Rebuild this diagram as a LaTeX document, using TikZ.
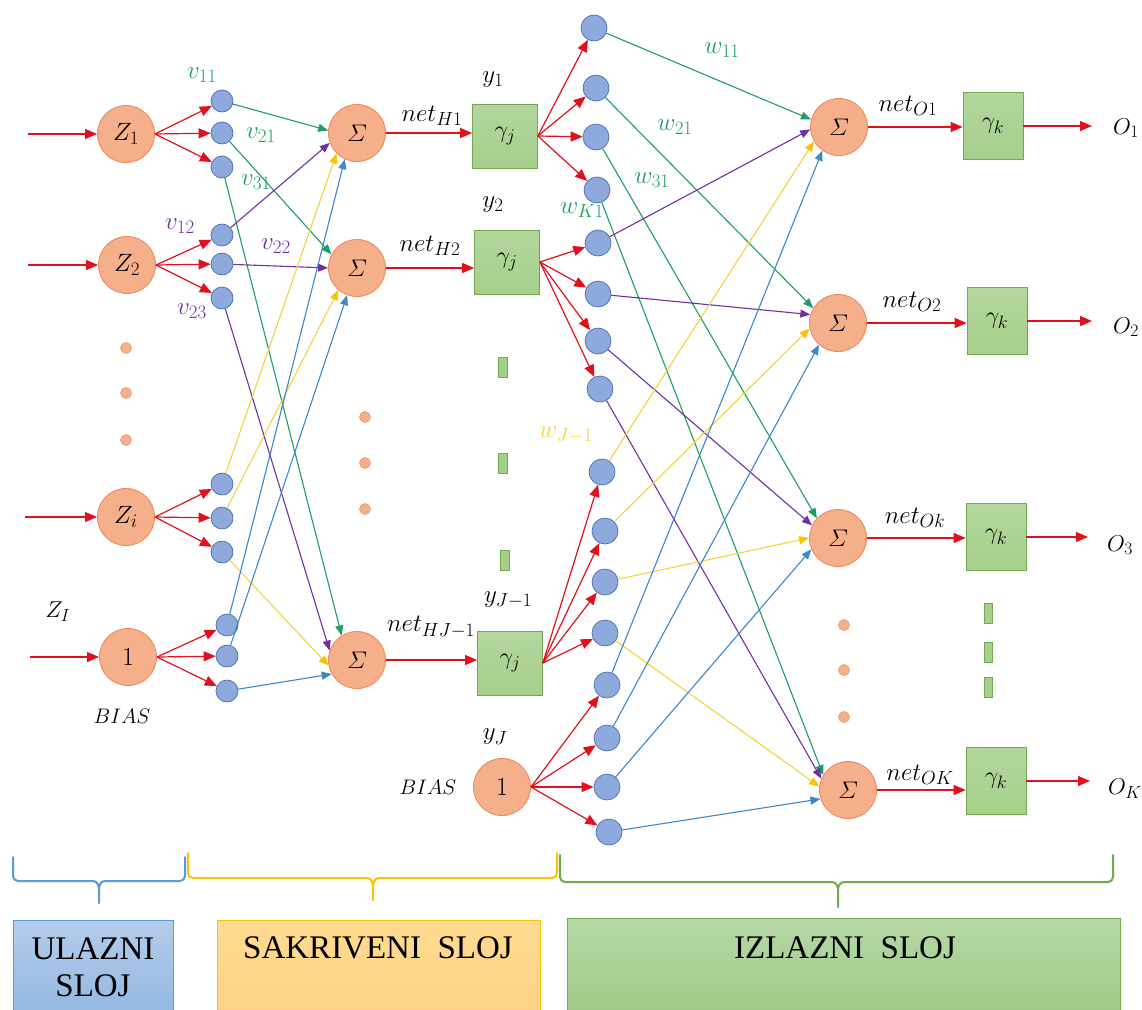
\RequirePackage{fix-cm}
\documentclass[tikz,border=0pt]{standalone}
\usepackage{amsmath}
\usepackage{fontspec}
\newfontfamily\tnr{Liberation Serif}
\DeclareMathSizes{25}{25}{19}{15}
\DeclareMathSizes{24}{24}{18}{14}
\DeclareMathSizes{23}{23}{17.5}{14}
\DeclareMathSizes{21}{21}{16}{13}
\DeclareMathSizes{26}{26}{19}{15}
\usetikzlibrary{arrows.meta}
\definecolor{orangeF}{HTML}{F5B08B}
\definecolor{orangeD}{HTML}{EB8A5C}
\definecolor{blueF}{HTML}{8EA9DB}
\definecolor{blueD}{HTML}{4A6DB0}
\definecolor{greenF}{HTML}{A6CF8B}
\definecolor{greenT}{HTML}{B3D69E}
\definecolor{greenD}{HTML}{72A852}
\definecolor{redA}{HTML}{E0101E}
\definecolor{grn}{HTML}{1E9E62}
\definecolor{pur}{HTML}{7030A0}
\definecolor{yel}{HTML}{F2D43C}
\definecolor{yelA}{HTML}{FFC000}
\definecolor{blu}{HTML}{3C88C8}
\definecolor{bbBlue}{HTML}{5B9BD5}
\definecolor{bbYel}{HTML}{FFC000}
\definecolor{bbGrn}{HTML}{70AD47}
\begin{document}
\begin{tikzpicture}[x=1pt,y=-1pt,
  inp/.style={circle, draw=orangeD, fill=orangeF, minimum size=57pt, inner sep=0pt, line width=0.9pt, font=\fontsize{25}{30}\selectfont},
  sig/.style={inp, font=\fontsize{24}{28}\selectfont},
  one/.style={inp, font=\fontsize{26}{30}\selectfont},
  sm/.style={circle, draw=blueD, fill=blueF, minimum size=22pt, inner sep=0pt, line width=0.7pt},
  smo/.style={sm, minimum size=26pt},
  gbox/.style={draw=greenD, top color=greenT, bottom color=greenF, minimum width=65pt, minimum height=64pt, inner sep=0pt, line width=0.7pt, font=\fontsize{24}{28}\selectfont},
  kbox/.style={gbox, minimum width=60pt, minimum height=67pt},
  dotc/.style={circle, draw=orangeD, fill=orangeF, minimum size=11pt, inner sep=0pt, line width=0.5pt},
  gbar/.style={draw=greenD, fill=greenF, minimum width=9pt, minimum height=20pt, inner sep=0pt, line width=0.6pt},
  rarr/.style={draw=redA, line width=1.2pt, -{Triangle[length=12pt,width=10pt]}},
  carr/.style={line width=1.1pt},
  garr/.style={carr, draw=grn, -{Triangle[length=10pt,width=8pt,color=grn]}},
  parr/.style={carr, draw=pur, -{Triangle[length=10pt,width=8pt,color=pur]}},
  yarr/.style={carr, draw=yel, -{Triangle[length=10pt,width=8pt,color=yelA]}},
  barr/.style={carr, draw=blu, -{Triangle[length=10pt,width=8pt,color=blu]}},
  lbl/.style={inner sep=0pt, font=\fontsize{25}{29}\selectfont},
  olbl/.style={inner sep=0pt, font=\fontsize{23}{27}\selectfont},
  blbl/.style={inner sep=0pt, font=\fontsize{21}{25}\selectfont},
  brace/.style={line width=2pt, line cap=round, line join=round},
  layerbox/.style={line width=1pt, font=\tnr\fontsize{33}{38}\selectfont, align=center}
]
\useasboundingbox (0,0) rectangle (1142,1009);
\fill[white] (0,0) rectangle (1142,1009);

% ---------- input layer ----------
\node[inp] (Z1) at (126,134) {$Z_1$};
\node[inp] (Z2) at (127,265) {$Z_2$};
\node[inp] (Zi) at (126,517) {$Z_i$};
\node[one] (B1) at (128,657) {$1$};
\coordinate (in1) at (28,134);
\coordinate (in2) at (28,265);
\coordinate (in3) at (25,517);
\coordinate (in4) at (30,657);
\node[dotc] (ld1) at (126,348) {};
\node[dotc] (ld2) at (126,393) {};
\node[dotc] (ld3) at (126,440) {};
\node[olbl] (ZI) at (58,612) {$Z_I$};
\node[blbl] (bias1) at (122,716) {$BIAS$};

\node[sm] (a1) at (222,101) {};
\node[sm] (a2) at (222,133) {};
\node[sm] (a3) at (222,167) {};
\node[sm] (b1) at (222,235) {};
\node[sm] (b2) at (222,264) {};
\node[sm] (b3) at (222,298) {};
\node[sm] (i1) at (222,484) {};
\node[sm] (i2) at (222,518) {};
\node[sm] (i3) at (222,552) {};
\node[sm] (s1) at (227,625) {};
\node[sm] (s2) at (227,656) {};
\node[sm] (s3) at (227,691) {};

% ---------- hidden layer ----------
\node[sig] (H1) at (357,133) {$\varSigma$};
\node[sig] (H2) at (357,268) {$\varSigma$};
\node[sig] (H3) at (357,660) {$\varSigma$};
\node[dotc] (hd1) at (365,417) {};
\node[dotc] (hd2) at (365,463) {};
\node[dotc] (hd3) at (365,509) {};

\node[gbox] (G1) at (505,136) {$\gamma_j$};
\node[gbox] (G2) at (507,262) {$\gamma_j$};
\node[gbox] (G3) at (510,663) {$\gamma_j$};
\node[gbar] (gb1) at (503,367) {};
\node[gbar] (gb2) at (503,463) {};
\node[gbar] (gb3) at (505,560) {};
\node[one] (HB) at (502,787) {$1$};

\node[lbl] (nH1) at (432,116) {$net_{H1}$};
\node[lbl] (nH2) at (430,246) {$net_{H2}$};
\node[lbl] (nH3) at (431,627) {$net_{HJ-1}$};
\node[lbl] (y1) at (493,80) {$y_1$};
\node[lbl] (y2) at (493,205) {$y_2$};
\node[lbl] (yJ1) at (508,600) {$y_{J-1}$};
\node[lbl] (yJ) at (495,737) {$y_J$};
\node[blbl] (bias2) at (428,787) {$BIAS$};

% ---------- output-layer small circles ----------
\node[smo] (c1) at (594,28) {};
\node[smo] (c2) at (596,88) {};
\node[smo] (c3) at (596,137) {};
\node[smo] (c4) at (597,190) {};
\node[smo] (c5) at (598,243) {};
\node[smo] (c6) at (598,294) {};
\node[smo] (c7) at (598,341) {};
\node[smo] (c8) at (600,389) {};
\node[smo] (c9) at (602,472) {};
\node[smo] (c10) at (605,531) {};
\node[smo] (c11) at (605,582) {};
\node[smo] (c12) at (605,633) {};
\node[smo] (c13) at (607,685) {};
\node[smo] (c14) at (607,738) {};
\node[smo] (c15) at (607,787) {};
\node[smo] (c16) at (609,832) {};

% ---------- output layer ----------
\node[sig] (O1) at (839,127) {$\varSigma$};
\node[sig] (O2) at (838,323) {$\varSigma$};
\node[sig] (O3) at (838,538) {$\varSigma$};
\node[sig] (OK) at (848,790) {$\varSigma$};
\node[dotc] (od1) at (844,625) {};
\node[dotc] (od2) at (844,670) {};
\node[dotc] (od3) at (844,717) {};

\node[kbox] (K1) at (993,126) {$\gamma_k$};
\node[kbox] (K2) at (997,321) {$\gamma_k$};
\node[kbox] (K3) at (996,537) {$\gamma_k$};
\node[kbox] (K4) at (996,781) {$\gamma_k$};
\node[gbar, minimum width=8pt] (kb1) at (988,613) {};
\node[gbar, minimum width=8pt] (kb2) at (988,652) {};
\node[gbar, minimum width=8pt] (kb3) at (988,687) {};

\node[lbl] (nO1) at (908,106) {$net_{O1}$};
\node[lbl] (nO2) at (912,302) {$net_{O2}$};
\node[lbl] (nO3) at (915,518) {$net_{Ok}$};
\node[lbl] (nO4) at (920,775) {$net_{OK}$};
\node[olbl] (Ol1) at (1126,128) {$O_1$};
\node[olbl] (Ol2) at (1126,327) {$O_2$};
\node[olbl] (Ol3) at (1120,545) {$O_3$};
\node[olbl] (Ol4) at (1125,789) {$O_K$};
\coordinate (e1) at (1092,126);
\coordinate (e2) at (1092,321);
\coordinate (e3) at (1088,537);
\coordinate (e4) at (1090,781);

% ---------- weight labels ----------
\node[lbl, text=grn] (v11) at (202,75) {$v_{11}$};
\node[lbl, text=grn] (v21) at (261,135) {$v_{21}$};
\node[lbl, text=grn] (v31) at (256,182) {$v_{31}$};
\node[lbl, text=pur] (v12) at (180,226) {$v_{12}$};
\node[lbl, text=pur] (v22) at (276,246) {$v_{22}$};
\node[lbl, text=pur] (v23) at (192,311) {$v_{23}$};
\node[lbl, text=grn] (w11) at (722,50) {$w_{11}$};
\node[lbl, text=grn] (w21) at (675,127) {$w_{21}$};
\node[lbl, text=grn] (w31) at (652,180) {$w_{31}$};
\node[lbl, text=grn] (wK1) at (582,210) {$w_{K1}$};
\node[lbl, text=yel] (wJ) at (566,435) {$w_{J-1}$};

% ---------- red arrows ----------
\draw[rarr] (in1) -- (Z1);
\draw[rarr] (in2) -- (Z2);
\draw[rarr] (in3) -- (Zi);
\draw[rarr] (in4) -- (B1);
\foreach \s/\t in {Z1/a1,Z1/a2,Z1/a3,Z2/b1,Z2/b2,Z2/b3,Zi/i1,Zi/i2,Zi/i3,B1/s1,B1/s2,B1/s3,
  G1/c1,G1/c2,G1/c3,G1/c4,G2/c5,G2/c6,G2/c7,G2/c8,G3/c9,G3/c10,G3/c11,G3/c12,HB/c13,HB/c14,HB/c15,HB/c16}
  \draw[rarr] (\s.east) -- (\t);
\draw[rarr] (H1.east) -- (H1.east -| G1.west);
\draw[rarr] (H2.east) -- (H2.east -| G2.west);
\draw[rarr] (H3.east) -- (H3.east -| G3.west);
\draw[rarr] (O1.east) -- (O1.east -| K1.west);
\draw[rarr] (O2.east) -- (O2.east -| K2.west);
\draw[rarr] (O3.east) -- (O3.east -| K3.west);
\draw[rarr] (OK.east) -- (OK.east -| K4.west);
\draw[rarr] (K1.east) -- (e1);
\draw[rarr] (K2.east) -- (e2);
\draw[rarr] (K3.east) -- (e3);
\draw[rarr] (K4.east) -- (e4);

% ---------- hidden-layer weights ----------
\draw[garr] (a1) -- (H1.175);
\draw[garr] (a2) -- (H2.152);
\draw[garr] (a3) -- (H3.122);
\draw[parr] (b1) -- (H1.200);
\draw[parr] (b2) -- (H2.180);
\draw[parr] (b3) -- (H3.161);
\draw[yarr] (i1) -- (H1.225);
\draw[yarr] (i2) -- (H2.230);
\draw[yarr] (i3) -- (H3.191);
\draw[barr] (s1) -- (H1.245);
\draw[barr] (s2) -- (H2.250);
\draw[barr] (s3) -- (H3.209);

% ---------- output-layer weights ----------
\draw[garr] (c1) -- (O1.165);
\draw[garr] (c2) -- (O2.149);
\draw[garr] (c3) -- (O3.137);
\draw[garr] (c4) -- (OK.149);
\draw[parr] (c5) -- (O1.185);
\draw[parr] (c6) -- (O2.163);
\draw[parr] (c7) -- (O3.154);
\draw[parr] (c8) -- (OK.157);
\draw[yarr] (c9) -- (O1.210);
\draw[yarr] (c10) -- (O2.191);
\draw[yarr] (c11) -- (O3.180);
\draw[yarr] (c12) -- (OK.173);
\draw[barr] (c13) -- (O1.235);
\draw[barr] (c14) -- (O2.229);
\draw[barr] (c15) -- (O3.203);
\draw[barr] (c16) -- (OK.198);

% ---------- braces ----------
\draw[brace, draw=bbBlue] (13,857) -- (13,876) to[out=-90,in=180] (18,881) -- (93,881) to[out=0,in=90] (99,889) -- (99,903);
\draw[brace, draw=bbBlue] (99,889) to[out=90,in=180] (105,881) -- (180,881) to[out=0,in=-90] (185,876) -- (185,857);
\draw[brace, draw=bbYel] (188,853) -- (188,873) to[out=-90,in=180] (193,878) -- (367,878) to[out=0,in=90] (373,886) -- (373,900);
\draw[brace, draw=bbYel] (373,886) to[out=90,in=180] (379,878) -- (552,878) to[out=0,in=-90] (557,873) -- (557,853);
\draw[brace, draw=bbGrn] (560,855) -- (560,877) to[out=-90,in=180] (565,882) -- (832,882) to[out=0,in=90] (838,890) -- (838,907);
\draw[brace, draw=bbGrn] (838,890) to[out=90,in=180] (844,882) -- (1108,882) to[out=0,in=-90] (1113,877) -- (1113,855);

% ---------- layer boxes ----------
\draw[layerbox, draw=bbBlue, top color={rgb,255:red,180;green,204;blue,234}, bottom color={rgb,255:red,148;green,184;blue,226}] (13,920) rectangle (173,1014);
\draw[layerbox, draw=bbYel, top color={rgb,255:red,255;green,219;blue,145}, bottom color={rgb,255:red,253;green,210;blue,132}] (217,920) rectangle (540,1014);
\draw[layerbox, draw=bbGrn, top color={rgb,255:red,181;green,216;blue,166}, bottom color={rgb,255:red,160;green,202;blue,135}] (567,918) rectangle (1120,1014);
\node[layerbox] (t1) at (93,949) {ULAZNI};
\node[layerbox] (t2) at (93,986) {SLOJ};
\node[layerbox] (t3) at (378,948) {SAKRIVENI~~SLOJ};
\node[layerbox] (t4) at (845,948) {IZLAZNI~~SLOJ};
\end{tikzpicture}
\end{document}
